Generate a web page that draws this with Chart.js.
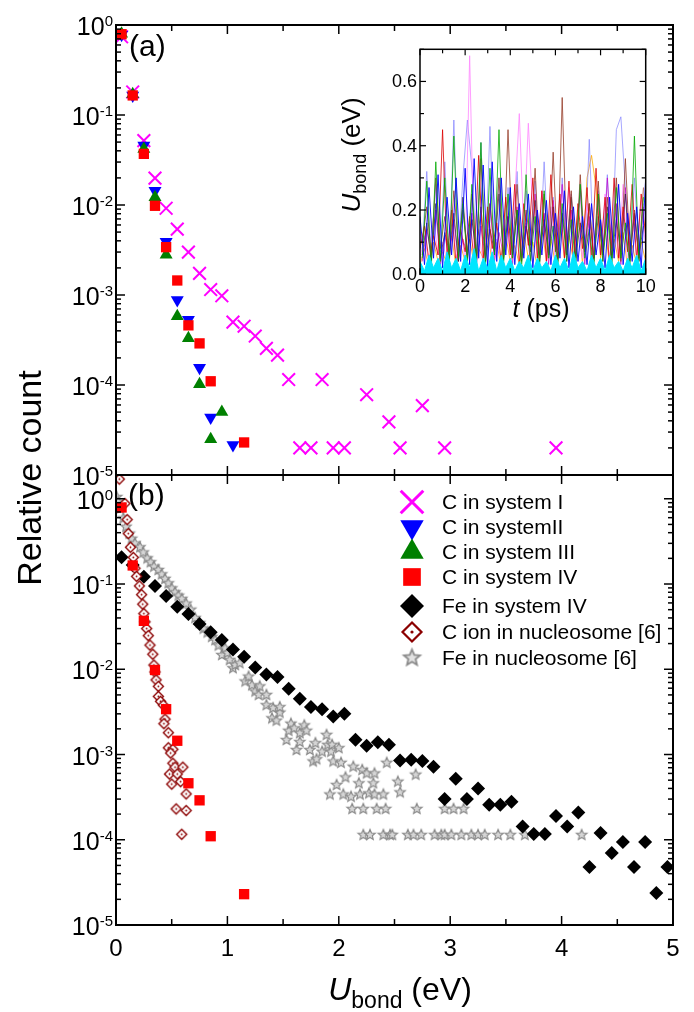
<!DOCTYPE html>
<html>
<head>
<meta charset="utf-8">
<script src="https://cdn.jsdelivr.net/npm/chart.js@4.4.1/dist/chart.umd.min.js"></script>
<style>
  html, body { margin: 0; padding: 0; background: #fff; }
  #wrap { position: relative; width: 694px; height: 1012px; }
  #main { position: absolute; left: 0; top: 0; }
  #inset { position: absolute; left: 335px; top: 35px; }
</style>
</head>
<body>
<div id="wrap">
  <canvas id="main" width="694" height="1012"></canvas>
  <canvas id="inset" width="325" height="295"></canvas>
</div>
<script>
var FONT = "'Liberation Sans', Arial, sans-serif";

// ---- panel (a): C atoms, relative count per 0.1 eV bin ----
var binsSysI = [0.05,0.15,0.25,0.35,0.45,0.55,0.65,0.75,0.85,0.95,1.05,1.15,1.25,1.35,1.45,1.55,1.65,1.75,1.85,1.95,2.05,2.25,2.45,2.55,2.75,2.95,3.95];
var countSysI = [0.74,0.18,0.052,0.0199,0.0092,0.0054,0.0030,0.00174,0.00115,0.00098,0.00050,0.00045,0.00035,0.000255,0.000215,0.000115,2e-5,2e-5,0.000115,2e-5,2e-5,7.8e-5,3.9e-5,2e-5,5.9e-5,2e-5,2e-5];
var binsSysII = [0.05,0.15,0.25,0.35,0.45,0.55,0.65,0.75,0.85,1.05];
var countSysII = [0.78,0.165,0.0457,0.0144,0.0039,0.00088,0.00053,0.000155,4.35e-5,2.15e-5];
var binsSysIII = [0.05,0.15,0.25,0.35,0.45,0.55,0.65,0.75,0.85,0.95];
var countSysIII = [0.8,0.17,0.042,0.0122,0.0028,0.00058,0.00033,0.000102,2.5e-5,5.0e-5];
var binsSysIV = [0.05,0.15,0.25,0.35,0.45,0.55,0.65,0.75,0.85,1.15];
var countSysIV = [0.79,0.165,0.037,0.0098,0.0034,0.00145,0.00046,0.00029,0.00011,2.3e-5];

// ---- panel (b) ----
var binsFeIV = [0.05,0.15,0.25,0.35,0.45,0.55,0.65,0.75,0.85,0.95,
  1.05,1.15,1.25,1.35,1.45,1.55,1.65,1.75,1.85,1.95,
  2.05,2.15,2.25,2.35,2.45,2.55,2.65,2.75,2.85,2.95,
  3.05,3.15,3.25,3.35,3.45,3.55,3.65,3.75,3.85,3.95,
  4.05,4.15,4.25,4.35,4.45,4.55,4.65,4.75,4.85,4.95];
var countFeIV = [0.206,0.167,0.122,0.0946,0.0724,0.054,0.0445,0.034,0.0271,0.022,
  0.0171,0.014,0.0105,0.0087,0.0081,0.0059,0.0045,0.0036,0.0034,0.0028,
  0.0030,0.00149,0.00127,0.00139,0.0013,0.00085,0.00087,0.00084,0.00072,0.00030,
  0.00052,0.00030,0.00040,0.000257,0.000257,0.00028,0.000143,0.000117,0.000117,0.00019,
  0.000143,0.000209,4.8e-5,0.00012,7.0e-5,9.4e-5,4.8e-5,9.4e-5,2.37e-5,4.8e-5];

var ionU = [0.03,0.08,0.10,0.11,0.13,0.155,0.17,0.185,0.21,0.23,
  0.24,0.25,0.26,0.275,0.29,0.305,0.33,0.34,0.35,0.36,
  0.38,0.38,0.40,0.425,0.44,0.43,0.47,0.47,0.51,0.49,
  0.51,0.53,0.60,0.48,0.55,0.58,0.50,0.63,0.54,0.63,0.59];
var ionCount = [1.7,0.88,0.57,0.39,0.27,0.205,0.153,0.123,0.095,0.075,
  0.058,0.045,0.036,0.030,0.0248,0.0192,0.015,0.0112,0.0093,0.0075,
  0.0063,0.0048,0.0042,0.0038,0.0026,0.0023,0.0018,0.0012,0.00115,0.00104,
  0.00079,0.00071,0.00071,0.00059,0.00059,0.00048,0.00045,0.000345,0.00023,0.00022,0.000116];

var feNucU = [0.006,0.02,0.036,0.066,0.09,0.12,0.14,0.17,0.215,0.245,
  0.28,0.31,0.34,0.38,0.41,0.44,0.47,0.50,0.53,0.56,
  0.59,0.63,0.67,0.71,0.75,0.785,0.82,0.86,0.89,0.92,
  0.95,0.98,1.0,1.02,1.05,1.07,1.11,1.16,1.19,1.22,
  1.25,1.28,1.29,1.35,1.35,1.40,1.41,1.44,1.47,1.47,
  1.53,1.55,1.57,1.60,1.62,1.65,1.65,1.69,1.71,1.74,
  1.77,1.79,1.80,1.85,1.89,1.90,1.93,1.94,1.95,2.0,
  2.02,2.13,2.21,2.25,2.32,2.43,2.69,2.06,1.98,2.18,
  2.31,2.53,1.92,2.04,2.11,2.19,2.27,2.32,2.40,2.55,
  2.12,2.22,2.34,2.42,2.70,2.95,3.03,3.12,2.22,2.28,
  2.40,2.46,2.48,2.62,2.67,2.74,2.86,2.92,2.95,3.01,
  3.10,3.19,3.25,3.31,3.43,3.54,3.67,4.18];
var feNucCount = [1.05,0.92,0.77,0.59,0.47,0.39,0.34,0.30,0.27,0.235,
  0.20,0.18,0.16,0.146,0.13,0.115,0.102,0.089,0.080,0.073,
  0.067,0.059,0.050,0.040,0.035,0.030,0.027,0.024,0.022,0.019,
  0.0147,0.0176,0.0155,0.0129,0.0103,0.0112,0.0118,0.0072,0.0082,0.0065,
  0.0055,0.0050,0.0063,0.0050,0.0038,0.00266,0.0035,0.0025,0.0031,0.0036,
  0.00148,0.0019,0.0023,0.00203,0.00113,0.00178,0.0014,0.0022,0.0019,0.00113,
  0.00083,0.00136,0.00088,0.00108,0.0017,0.0013,0.00108,0.0013,0.00083,0.00119,
  0.0008,0.00072,0.00066,0.0006,0.0006,0.0008,0.00058,0.00054,0.00044,0.00046,
  0.00046,0.00048,0.00034,0.00034,0.00032,0.00034,0.00035,0.00034,0.00034,0.00036,
  0.00023,0.00023,0.00023,0.00023,0.00023,0.00023,0.00023,0.00023,0.000114,0.000114,
  0.000114,0.000114,0.000114,0.000114,0.000114,0.000114,0.000114,0.000114,0.000114,0.000114,
  0.000114,0.000114,0.000114,0.000114,0.000114,0.000114,0.000114,0.000114];

var yTickExp = [-5,-4,-3,-2,-1,0];
var xTickVals = [0,1,2,3,4,5];

// ---- inset: U_bond vs time (ps), estimated traces ----
var tA = [0,0.2,0.4,0.6,0.8,1,1.2,1.4,1.6,1.8,2,2.2,2.4,2.6,2.8,3,3.2,3.4,3.6,3.8,4,4.2,4.4,4.6,4.8,5,5.2,5.4,5.6,5.8,6,6.2,6.4,6.6,6.8,7,7.2,7.4,7.6,7.8,8,8.2,8.4,8.6,8.8,9,9.2,9.4,9.6,9.8,10];
var tB = [0.1,0.3,0.5,0.7,0.9,1.1,1.3,1.5,1.7,1.9,2.1,2.3,2.5,2.7,2.9,3.1,3.3,3.5,3.7,3.9,4.1,4.3,4.5,4.7,4.9,5.1,5.3,5.5,5.7,5.9,6.1,6.3,6.5,6.7,6.9,7.1,7.3,7.5,7.7,7.9,8.1,8.3,8.5,8.7,8.9,9.1,9.3,9.5,9.7,9.9];
var uCyan = [0.04,0.01,0.06,0.02,0.05,0.01,0.07,0.02,0.05,0.01,
  0.06,0.02,0.08,0.01,0.05,0.02,0.07,0.01,0.06,0.02,
  0.05,0.01,0.04,0.02,0.06,0.01,0.05,0.02,0.04,0.01,
  0.06,0.02,0.05,0.01,0.07,0.02,0.04,0.01,0.06,0.02,
  0.05,0.01,0.06,0.02,0.04,0.01,0.05,0.02,0.06,0.01,0.05];
var uBlue = [0.18,0.03,0.27,0.05,0.31,0.02,0.24,0.06,0.30,0.04,
  0.33,0.03,0.36,0.05,0.34,0.02,0.35,0.04,0.30,0.06,
  0.27,0.03,0.22,0.05,0.25,0.02,0.20,0.06,0.23,0.03,
  0.19,0.05,0.26,0.02,0.21,0.04,0.18,0.03,0.22,0.06,
  0.17,0.02,0.24,0.05,0.28,0.03,0.19,0.04,0.21,0.02,0.30];
var uGreen = [0.05,0.29,0.02,0.35,0.04,0.30,0.03,0.43,0.05,0.22,
  0.04,0.28,0.03,0.41,0.02,0.33,0.06,0.45,0.03,0.25,
  0.05,0.20,0.02,0.31,0.04,0.18,0.03,0.26,0.05,0.15,
  0.02,0.22,0.04,0.17,0.03,0.28,0.05,0.14,0.02,0.25,
  0.04,0.19,0.03,0.27,0.05,0.16,0.02,0.43,0.04,0.24];
var uRed = [0.08,0.15,0.04,0.12,0.06,0.45,0.05,0.20,0.03,0.14,
  0.07,0.18,0.04,0.37,0.05,0.21,0.08,0.16,0.04,0.24,
  0.06,0.28,0.03,0.22,0.09,0.30,0.05,0.26,0.04,0.31,
  0.07,0.25,0.05,0.29,0.03,0.22,0.08,0.27,0.04,0.33,
  0.06,0.24,0.02,0.30,0.05,0.21,0.07,0.28,0.04,0.25,0.12];
var uBrown = [0.10,0.21,0.06,0.30,0.08,0.18,0.05,0.26,0.09,0.20,
  0.07,0.25,0.04,0.36,0.06,0.22,0.08,0.30,0.05,0.45,
  0.07,0.28,0.05,0.20,0.09,0.33,0.04,0.25,0.06,0.38,
  0.05,0.55,0.08,0.26,0.04,0.31,0.07,0.22,0.05,0.29,
  0.06,0.24,0.08,0.30,0.04,0.36,0.07,0.20,0.05,0.27];
var uDark = [0.06,0.16,0.04,0.22,0.05,0.13,0.07,0.19,0.04,0.24,
  0.05,0.17,0.06,0.21,0.04,0.14,0.07,0.25,0.05,0.18,
  0.06,0.20,0.04,0.15,0.07,0.23,0.05,0.17,0.06,0.21,
  0.04,0.19,0.06,0.24,0.05,0.16,0.07,0.22,0.04,0.18,
  0.06,0.21,0.05,0.17,0.07,0.25,0.04,0.19,0.06,0.15];
var uMagenta = [0.04,0.14,0.06,0.20,0.03,0.12,0.05,0.17,0.04,0.11,
  0.06,0.19,0.03,0.15,0.05,0.22,0.04,0.13,0.06,0.18,
  0.03,0.21,0.05,0.16,0.04,0.25,0.06,0.19,0.03,0.23,
  0.05,0.28,0.04,0.20,0.06,0.26,0.03,0.18,0.05,0.24,
  0.04,0.30,0.06,0.22,0.03,0.27,0.05,0.19,0.04,0.21];
var uPink = [0.05,0.12,0.03,0.18,0.06,0.10,0.04,0.22,0.05,0.15,
  0.04,0.68,0.06,0.14,0.03,0.20,0.05,0.11,0.04,0.17,
  0.06,0.24,0.50,0.13,0.47,0.19,0.05,0.26,0.04,0.21,
  0.03,0.18,0.06,0.27,0.04,0.14,0.05,0.22,0.03,0.16,
  0.06,0.25,0.04,0.19,0.05,0.28,0.03,0.17,0.06,0.23,0.08];
var uLavender = [0.08,0.32,0.05,0.28,0.07,0.35,0.04,0.48,0.06,0.30,
  0.48,0.33,0.07,0.41,0.05,0.46,0.06,0.30,0.04,0.27,
  0.07,0.32,0.05,0.26,0.08,0.29,0.04,0.35,0.06,0.24,
  0.05,0.30,0.07,0.25,0.04,0.28,0.06,0.42,0.05,0.26,
  0.07,0.31,0.04,0.45,0.49,0.27,0.05,0.30,0.06,0.22];
var uOrange = [0.03,0.08,0.02,0.10,0.04,0.07,0.03,0.12,0.02,0.09,
  0.04,0.11,0.03,0.08,0.05,0.14,0.03,0.10,0.02,0.12,
  0.04,0.09,0.03,0.13,0.05,0.10,0.02,0.15,0.04,0.11,
  0.03,0.16,0.05,0.12,0.04,0.20,0.03,0.30,0.37,0.27,
  0.05,0.14,0.03,0.11,0.04,0.13,0.02,0.09,0.03,0.10,0.04];

function pts(xs, ys) {
  return ys.map(function (v, i) { return { x: xs[i], y: v }; });
}

function starImage(r, fill, stroke, lw) {
  var c = document.createElement('canvas');
  var s = Math.ceil(2 * r + 2 * lw + 2);
  c.width = s; c.height = s;
  var g = c.getContext('2d');
  g.translate(s / 2, s / 2);
  g.beginPath();
  for (var i = 0; i < 10; i++) {
    var rr = i % 2 ? r * 0.45 : r;
    var a = -Math.PI / 2 + i * Math.PI / 5;
    g.lineTo(rr * Math.cos(a), rr * Math.sin(a));
  }
  g.closePath();
  g.fillStyle = fill; g.fill();
  g.lineWidth = lw; g.strokeStyle = stroke; g.stroke();
  return c;
}

function dotDiamondImage(r, color, lw, dot) {
  var c = document.createElement('canvas');
  var s = Math.ceil(2 * r + 2 * lw + 2);
  c.width = s; c.height = s;
  var g = c.getContext('2d');
  g.translate(s / 2, s / 2);
  g.beginPath();
  g.moveTo(0, -r); g.lineTo(r, 0); g.lineTo(0, r); g.lineTo(-r, 0);
  g.closePath();
  g.fillStyle = '#fff'; g.fill();
  g.lineWidth = lw; g.strokeStyle = color; g.stroke();
  g.beginPath(); g.arc(0, 0, dot, 0, Math.PI * 2); g.fillStyle = color; g.fill();
  return c;
}

var ionImg = dotDiamondImage(5, '#8b0000', 1.4, 0.9);
var starImg = starImage(5.5, '#d6d6d6', '#8a8a8a', 1.2);
var ionImgBig = dotDiamondImage(9.5, '#8b0000', 2.2, 1.6);
var starImgBig = starImage(8.5, '#e2e2e2', '#8a8a8a', 1.8);

function line(ctx, x1, y1, x2, y2) {
  ctx.beginPath(); ctx.moveTo(x1, y1); ctx.lineTo(x2, y2); ctx.stroke();
}

function drawPow(ctx, e, xr, y) {
  var s = String(e);
  ctx.font = '25px ' + FONT;
  var bw = ctx.measureText('10').width;
  ctx.font = '15px ' + FONT;
  var sw = ctx.measureText(s).width;
  ctx.textAlign = 'left';
  ctx.textBaseline = 'alphabetic';
  ctx.font = '25px ' + FONT;
  ctx.fillText('10', xr - sw - bw, y + 10);
  ctx.font = '15px ' + FONT;
  ctx.fillText(s, xr - sw, y + 1);
}

var legendRows = [
  { label: 'C in system I', y: 502, r: 16, lw: 3 },
  { label: 'C in systemII', y: 527, r: 13.5 },
  { label: 'C in system III', y: 552, r: 13.5 },
  { label: 'C in system IV', y: 577, r: 12.5 },
  { label: 'Fe in system IV', y: 606, r: 12 },
  { label: 'C ion in nucleosome [6]', y: 632, img: ionImgBig },
  { label: 'Fe in nucleosome [6]', y: 658, img: starImgBig }
];

var mainDecor = {
  id: 'mainDecor',
  afterDatasetsDraw: function (chart) {
    var ctx = chart.ctx;
    var x = chart.scales.x;
    var L = x.left, R = x.right;
    ctx.save();
    ctx.strokeStyle = '#000';
    ctx.fillStyle = '#000';
    [chart.scales.yA, chart.scales.yB].forEach(function (ys) {
      ctx.lineWidth = 1.5;
      for (var k = 0; k <= 10; k++) {
        var px = x.getPixelForValue(k * 0.5);
        var len = k % 2 === 0 ? 9 : 6;
        line(ctx, px, ys.top, px, ys.top + len);
        line(ctx, px, ys.bottom, px, ys.bottom - len);
      }
      for (var e = -5; e <= 0; e++) {
        for (var m = 1; m <= 9; m++) {
          var v = m * Math.pow(10, e);
          if (v > ys.max * 1.0001) break;
          var py = ys.getPixelForValue(v);
          var ln = m === 1 ? 9 : 5;
          line(ctx, L, py, L + ln, py);
          line(ctx, R, py, R - ln, py);
        }
      }
      ctx.lineWidth = 2;
      ctx.strokeRect(L, ys.top, R - L, ys.bottom - ys.top);
      yTickExp.forEach(function (ex) {
        drawPow(ctx, ex, 113, ys.getPixelForValue(Math.pow(10, ex)));
      });
    });

    // x tick labels
    ctx.font = '24px ' + FONT;
    ctx.textAlign = 'center';
    ctx.textBaseline = 'middle';
    xTickVals.forEach(function (v) {
      ctx.fillText(String(v), x.getPixelForValue(v), 949);
    });

    // panel tags
    ctx.font = '30px ' + FONT;
    ctx.textAlign = 'left';
    ctx.textBaseline = 'alphabetic';
    ctx.fillText('(a)', 129, 56);
    ctx.fillText('(b)', 128, 505);

    // y title
    ctx.save();
    ctx.translate(41, 478);
    ctx.rotate(-Math.PI / 2);
    ctx.font = '34px ' + FONT;
    ctx.textAlign = 'center';
    ctx.fillText('Relative count', 0, 0);
    ctx.restore();

    // x title
    ctx.font = 'italic 32px ' + FONT;
    var wU = ctx.measureText('U').width;
    ctx.font = '23px ' + FONT;
    var wS = ctx.measureText('bond').width;
    ctx.font = '32px ' + FONT;
    var wE = ctx.measureText(' (eV)').width;
    var x0 = 400 - (wU + wS + wE) / 2;
    ctx.textAlign = 'left';
    ctx.font = 'italic 32px ' + FONT;
    ctx.fillText('U', x0, 1000);
    ctx.font = '23px ' + FONT;
    ctx.fillText('bond', x0 + wU, 1008);
    ctx.font = '32px ' + FONT;
    ctx.fillText(' (eV)', x0 + wU + wS, 1000);

    // legend
    legendRows.forEach(function (row) {
      var ds = chart.data.datasets.find(function (d) { return d.label === row.label; });
      ctx.save();
      if (row.img) {
        ctx.drawImage(row.img, 412 - row.img.width / 2, row.y - row.img.height / 2);
      } else {
        ctx.fillStyle = ds.pointBackgroundColor;
        ctx.strokeStyle = ds.pointBorderColor;
        ctx.lineWidth = row.lw || 1;
        Chart.helpers.drawPoint(ctx, {
          pointStyle: ds.pointStyle,
          radius: row.r,
          rotation: ds.pointRotation || 0,
          borderWidth: row.lw || 0
        }, 412, row.y);
      }
      ctx.restore();
      ctx.font = '21px ' + FONT;
      ctx.fillStyle = '#000';
      ctx.textAlign = 'left';
      ctx.textBaseline = 'middle';
      ctx.fillText(row.label, 442, row.y + 1);
    });
    ctx.restore();
  }
};

new Chart(document.getElementById('main'), {
  type: 'scatter',
  data: {
    datasets: [
      { label: 'C in system IV', data: pts(binsSysIV, countSysIV), yAxisID: 'yA',
        pointStyle: 'rect', pointRadius: 7.3, pointBackgroundColor: '#ff0000', pointBorderColor: '#ff0000', pointBorderWidth: 0 },
      { label: 'C in system III', data: pts(binsSysIII, countSysIII), yAxisID: 'yA',
        pointStyle: 'triangle', pointRadius: 7.5, pointBackgroundColor: '#008000', pointBorderColor: '#008000', pointBorderWidth: 0 },
      { label: 'C in systemII', data: pts(binsSysII, countSysII), yAxisID: 'yA',
        pointStyle: 'triangle', pointRotation: 180, pointRadius: 7.5, pointBackgroundColor: '#0000ff', pointBorderColor: '#0000ff', pointBorderWidth: 0 },
      { label: 'C in system I', data: pts(binsSysI, countSysI), yAxisID: 'yA',
        pointStyle: 'crossRot', pointRadius: 9, pointBackgroundColor: '#ff00ff', pointBorderColor: '#ff00ff', pointBorderWidth: 2 },
      { label: 'C in system IV', data: pts(binsSysIV, countSysIV), yAxisID: 'yB',
        pointStyle: 'rect', pointRadius: 7.3, pointBackgroundColor: '#ff0000', pointBorderColor: '#ff0000', pointBorderWidth: 0 },
      { label: 'C ion in nucleosome [6]', data: pts(ionU, ionCount), yAxisID: 'yB',
        pointStyle: ionImg, pointRadius: 5 },
      { label: 'Fe in system IV', data: pts(binsFeIV, countFeIV), yAxisID: 'yB',
        pointStyle: 'rectRot', pointRadius: 7, pointBackgroundColor: '#000', pointBorderColor: '#000', pointBorderWidth: 0 },
      { label: 'Fe in nucleosome [6]', data: pts(feNucU, feNucCount), yAxisID: 'yB',
        pointStyle: starImg, pointRadius: 5 }
    ]
  },
  options: {
    responsive: false,
    animation: false,
    events: [],
    layout: { padding: { left: 116, right: 21, top: 25, bottom: 87 } },
    plugins: { legend: { display: false }, tooltip: { enabled: false } },
    scales: {
      x: { type: 'linear', min: 0, max: 5, display: false },
      yB: { type: 'logarithmic', min: 1e-5, max: 1.9, display: false, position: 'left', stack: 'panels', stackWeight: 1 },
      yA: { type: 'logarithmic', min: 1e-5, max: 1, display: false, position: 'left', stack: 'panels', stackWeight: 1 }
    }
  },
  plugins: [mainDecor]
});

// ---- inset ----
var insetDecor = {
  id: 'insetDecor',
  afterDatasetsDraw: function (chart) {
    var ctx = chart.ctx, x = chart.scales.x, y = chart.scales.y;
    ctx.save();
    ctx.strokeStyle = '#000';
    ctx.fillStyle = '#000';
    ctx.lineWidth = 1.2;
    for (var t = 0; t <= 10; t++) {
      var px = x.getPixelForValue(t);
      var len = t % 2 === 0 ? 6 : 4;
      line(ctx, px, y.top, px, y.top + len);
      line(ctx, px, y.bottom, px, y.bottom - len);
    }
    for (var i = 0; i <= 7; i++) {
      var py = y.getPixelForValue(i / 10);
      var ln = i % 2 === 0 ? 6 : 4;
      line(ctx, x.left, py, x.left + ln, py);
      line(ctx, x.right, py, x.right - ln, py);
    }
    ctx.lineWidth = 1.5;
    ctx.strokeRect(x.left, y.top, x.right - x.left, y.bottom - y.top);

    ctx.font = '18px ' + FONT;
    ctx.textAlign = 'center';
    ctx.textBaseline = 'middle';
    [0, 2, 4, 6, 8, 10].forEach(function (v) {
      ctx.fillText(String(v), x.getPixelForValue(v), y.bottom + 13);
    });
    ctx.textAlign = 'right';
    [0, 0.2, 0.4, 0.6].forEach(function (v) {
      ctx.fillText(v.toFixed(1), x.left - 3, y.getPixelForValue(v) + 1);
    });

    // t (ps)
    ctx.textBaseline = 'alphabetic';
    ctx.font = 'italic 25px ' + FONT;
    var wt = ctx.measureText('t').width;
    ctx.font = '25px ' + FONT;
    var wp = ctx.measureText(' (ps)').width;
    var xs = 206 - (wt + wp) / 2;
    ctx.textAlign = 'left';
    ctx.font = 'italic 25px ' + FONT;
    ctx.fillText('t', xs, 282);
    ctx.font = '25px ' + FONT;
    ctx.fillText(' (ps)', xs + wt, 282);

    // U_bond (eV)
    ctx.save();
    ctx.translate(25, 120);
    ctx.rotate(-Math.PI / 2);
    ctx.font = 'italic 26px ' + FONT;
    var wU = ctx.measureText('U').width;
    ctx.font = '18px ' + FONT;
    var wB = ctx.measureText('bond').width;
    ctx.font = '26px ' + FONT;
    var wE = ctx.measureText(' (eV)').width;
    var s0 = -(wU + wB + wE) / 2;
    ctx.font = 'italic 26px ' + FONT;
    ctx.fillText('U', s0, 0);
    ctx.font = '18px ' + FONT;
    ctx.fillText('bond', s0 + wU, 6);
    ctx.font = '26px ' + FONT;
    ctx.fillText(' (eV)', s0 + wU + wB, 0);
    ctx.restore();
    ctx.restore();
  }
};

function trace(data, color, fill) {
  return {
    data: data, showLine: true, pointRadius: 0, borderWidth: 1, borderColor: color,
    backgroundColor: color, fill: fill ? 'origin' : false, tension: 0
  };
}

new Chart(document.getElementById('inset'), {
  type: 'scatter',
  data: {
    datasets: [
      trace(pts(tA, uCyan), 'rgb(0,230,255)', true),
      trace(pts(tA, uBlue), 'rgba(0,0,255,0.9)'),
      trace(pts(tB, uGreen), 'rgba(0,170,0,0.8)'),
      trace(pts(tA, uRed), 'rgba(220,0,0,0.8)'),
      trace(pts(tB, uBrown), 'rgba(150,60,40,0.8)'),
      trace(pts(tB, uDark), 'rgba(40,40,40,0.7)'),
      trace(pts(tB, uMagenta), 'rgba(200,0,200,0.7)'),
      trace(pts(tA, uPink), 'rgba(255,140,255,0.85)'),
      trace(pts(tB, uLavender), 'rgba(130,130,255,0.7)'),
      trace(pts(tA, uOrange), 'rgba(255,170,0,0.8)')
    ]
  },
  options: {
    responsive: false,
    animation: false,
    events: [],
    layout: { padding: { left: 85, right: 14.3, top: 14.3, bottom: 55.7 } },
    plugins: { legend: { display: false }, tooltip: { enabled: false } },
    scales: {
      x: { type: 'linear', min: 0, max: 10, display: false },
      y: { type: 'linear', min: 0, max: 0.7, display: false }
    }
  },
  plugins: [insetDecor]
});
</script>
</body>
</html>
